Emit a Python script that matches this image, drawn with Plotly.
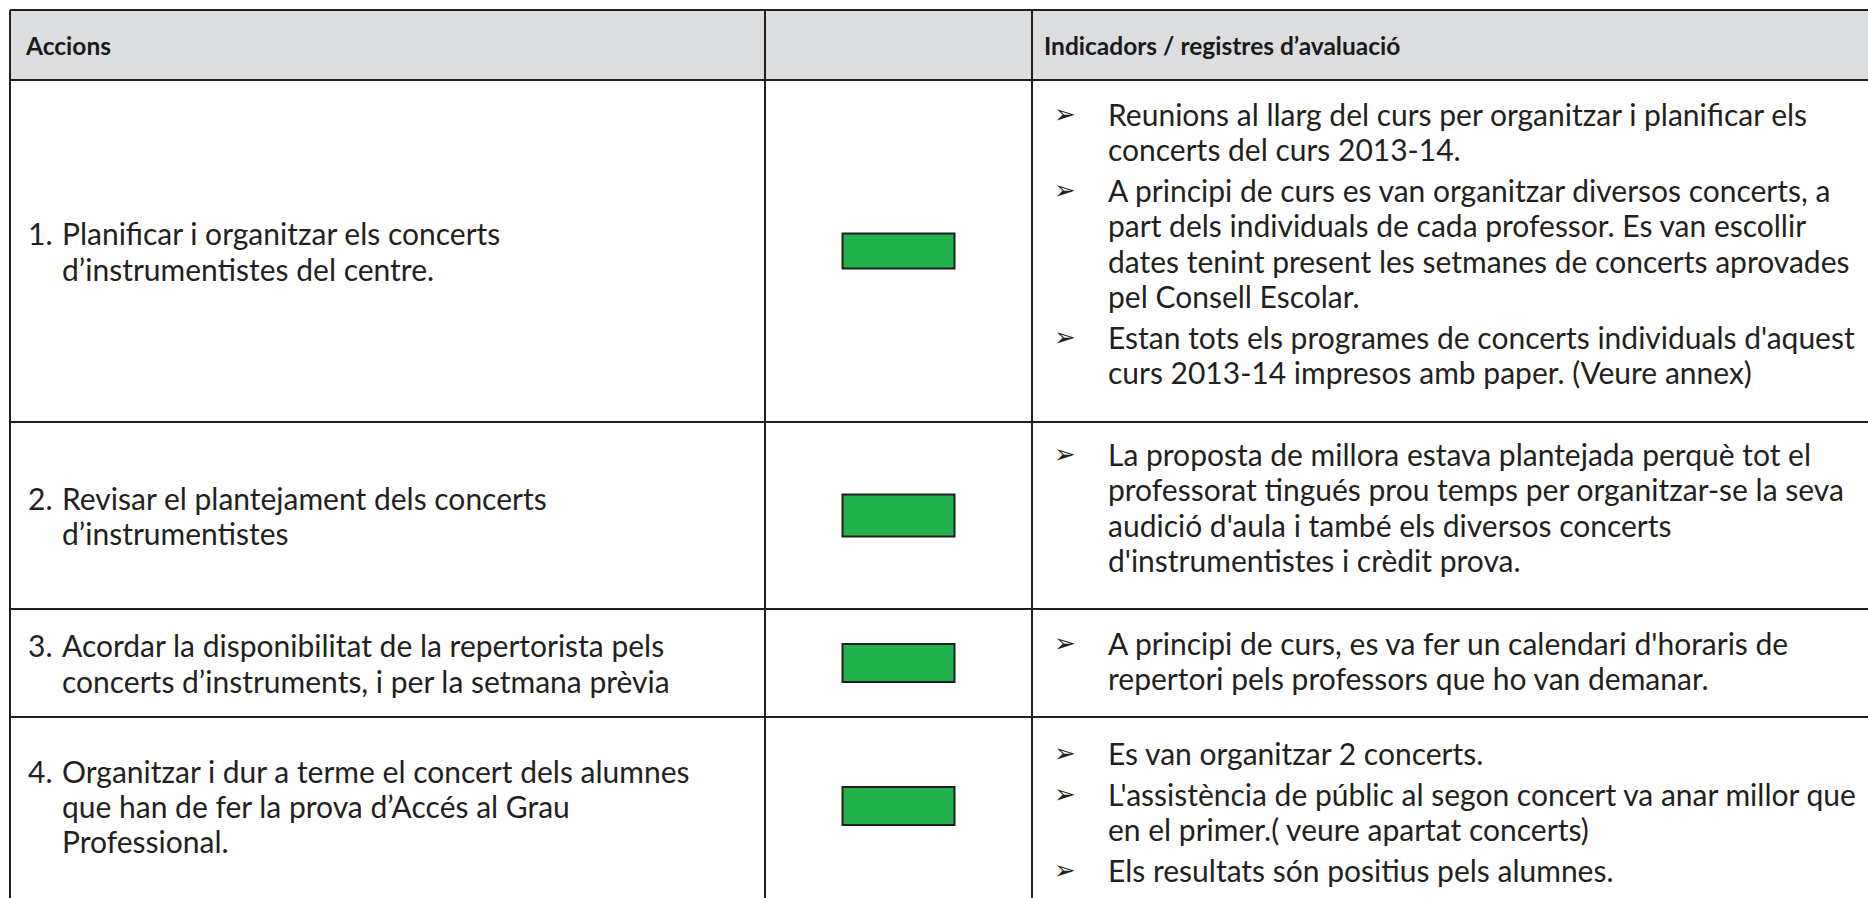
import plotly.graph_objects as go

# ---------------- data ----------------
headers = ["Accions", "", "Indicadors / registres d’avaluació"]
action_numbers = ["1.", "2.", "3.", "4."]
actions = [
    ["Planificar i organitzar els concerts", "d’instrumentistes del centre."],
    ["Revisar el plantejament dels concerts", "d’instrumentistes"],
    ["Acordar la disponibilitat de la repertorista pels",
     "concerts d’instruments, i per la setmana prèvia"],
    ["Organitzar i dur a terme el concert dels alumnes",
     "que han de fer la prova d’Accés al Grau", "Professional."],
]
indicators = [
    [["Reunions al llarg del curs per organitzar i planificar els",
      "concerts del curs 2013-14."],
     ["A principi de curs es van organitzar diversos concerts, a",
      "part dels individuals de cada professor. Es van escollir",
      "dates tenint present les setmanes de concerts aprovades",
      "pel Consell Escolar."],
     ["Estan tots els programes de concerts individuals d'aquest",
      "curs 2013-14 impresos amb paper. (Veure annex)"]],
    [["La proposta de millora estava plantejada perquè tot el",
      "professorat tingués prou temps per organitzar-se la seva",
      "audició d'aula i també els diversos concerts",
      "d'instrumentistes i crèdit prova."]],
    [["A principi de curs, es va fer un calendari d'horaris de",
      "repertori pels professors que ho van demanar."]],
    [["Es van organitzar 2 concerts."],
     ["L'assistència de públic al segon concert va anar millor que",
      "en el primer.( veure apartat concerts)"],
     ["Els resultats són positius pels alumnes."]],
]
status = ["achieved", "achieved", "achieved", "achieved"]

# ---------------- layout / style ----------------
W, H = 1868, 898
col_edges = [10, 765, 1032, 1900]
row_edges = [10, 80, 422, 609, 717, 895]
LINE = "#231F20"
HEADER_FILL = "#DCDDDE"
STATUS_COLORS = {"achieved": "#22B24C"}
BOX_W = 112
BOX_H = [35, 42, 38, 38]
LS = 35.3          # line spacing
PARA_GAP = 5.5     # extra gap between bullet paragraphs
FIRST_OFF = [34, 32, 34, 36]  # first-line offset from top of cell (indicator column)
FONT = "Lato, Carlito, 'Noto Sans', sans-serif"
BODY_SIZE = 30
HEAD_SIZE = 24.5
NUM_X, TXT_X = 26, 60
BUL_X, BTXT_X = 1052, 1106
HEAD_X = [23, None, 1042]

fig = go.Figure()
shapes = []
ann = []

# header fill
shapes.append(dict(type="rect", x0=col_edges[0], x1=W + 20, y0=row_edges[0], y1=row_edges[1],
                   fillcolor=HEADER_FILL, line=dict(width=0), layer="below"))
# horizontal lines
for y in row_edges[:-1]:
    shapes.append(dict(type="line", x0=col_edges[0], x1=W + 20, y0=y, y1=y,
                       line=dict(color=LINE, width=2)))
# vertical lines
for x in col_edges[:-1]:
    shapes.append(dict(type="line", x0=x, x1=x, y0=row_edges[0], y1=H + 20,
                       line=dict(color=LINE, width=2)))

# header texts
head_y = (row_edges[0] + row_edges[1]) / 2
for i, h in enumerate(headers):
    if h:
        ann.append(dict(x=HEAD_X[i], y=head_y, text="<b>" + h + "</b>", xanchor="left",
                        yanchor="middle", showarrow=False,
                        font=dict(family=FONT, size=HEAD_SIZE, color="#1a1a1a")))


def centered_positions(center, n):
    return [center + (k - (n - 1) / 2) * LS for k in range(n)]


for r in range(len(actions)):
    y0, y1 = row_edges[r + 1], row_edges[r + 2]
    c = (y0 + y1) / 2
    # actions column (vertically centred)
    ys = centered_positions(c, len(actions[r]))
    ann.append(dict(x=NUM_X, y=ys[0], text=action_numbers[r], xanchor="left", yanchor="middle",
                    showarrow=False, font=dict(family=FONT, size=BODY_SIZE, color=LINE)))
    for t, yy in zip(actions[r], ys):
        ann.append(dict(x=TXT_X, y=yy, text=t, xanchor="left", yanchor="middle",
                        showarrow=False, font=dict(family=FONT, size=BODY_SIZE, color=LINE)))
    # status box
    cx = (col_edges[1] + col_edges[2]) / 2
    bh = BOX_H[r]
    shapes.append(dict(type="rect", x0=cx - BOX_W / 2, x1=cx + BOX_W / 2,
                       y0=c - bh / 2, y1=c + bh / 2,
                       fillcolor=STATUS_COLORS[status[r]], line=dict(color=LINE, width=2)))
    # indicators column (top aligned)
    yy = y0 + FIRST_OFF[r]
    for p, para in enumerate(indicators[r]):
        if p > 0:
            yy += PARA_GAP
        for k, t in enumerate(para):
            if k == 0:
                ann.append(dict(x=BUL_X, y=yy, text="➢", xanchor="left", yanchor="middle",
                                showarrow=False,
                                font=dict(family="'DejaVu Sans', sans-serif", size=26,
                                          color=LINE)))
            ann.append(dict(x=BTXT_X, y=yy, text=t, xanchor="left", yanchor="middle",
                            showarrow=False,
                            font=dict(family=FONT, size=BODY_SIZE, color=LINE)))
            yy += LS

fig.update_layout(
    width=W, height=H, margin=dict(l=0, r=0, t=0, b=0),
    paper_bgcolor="white", plot_bgcolor="white",
    xaxis=dict(range=[0, W], visible=False, fixedrange=True),
    yaxis=dict(range=[H, 0], visible=False, fixedrange=True),
    shapes=shapes, annotations=ann, showlegend=False,
)
fig.write_html("out.html", config={"displayModeBar": False},
               post_script="document.body.style.margin='0';document.body.style.overflow='hidden';")
